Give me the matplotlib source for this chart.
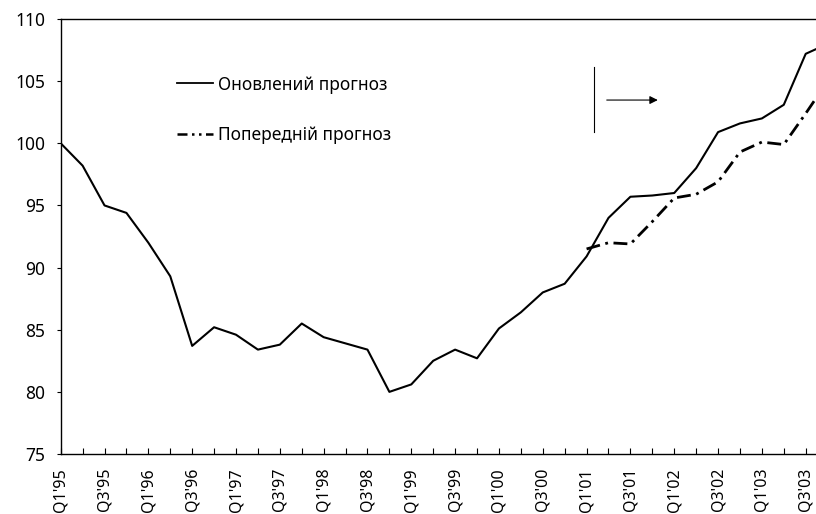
import numpy as np
import matplotlib
matplotlib.use("Agg")
import matplotlib.pyplot as plt

plt.rcParams["font.family"] = ["Noto Sans", "DejaVu Sans"]

# quarters Q1'95 .. Q4'03
years = ["95", "96", "97", "98", "99", "00", "01", "02", "03"]
quarters = [f"Q{q}'{y}" for y in years for q in range(1, 5)]

# updated forecast (solid)
updated = [100.0, 98.2, 95.0, 94.4, 92.0, 89.3, 83.7, 85.2, 84.6, 83.4,
           83.8, 85.5, 84.4, 83.9, 83.4, 80.0, 80.6, 82.5, 83.4, 82.7,
           85.1, 86.4, 88.0, 88.7, 90.9, 94.0, 95.7, 95.8, 96.0, 98.0,
           100.9, 101.6, 102.0, 103.1, 107.2, 108.0]

# previous forecast (dash-dot), starts at Q1'01
prev_start = 24
previous = [91.5, 92.0, 91.9, 93.7, 95.6, 95.9, 96.9, 99.3, 100.1, 99.9,
            102.4, 105.0]

labels = ["Оновлений прогноз", "Попередній прогноз"]

fig = plt.figure(figsize=(8.16, 5.14), dpi=100)
ax = fig.add_axes([0.0744, 0.1167, 0.9256, 0.8463])

x = np.arange(len(updated))
xp = np.arange(prev_start, prev_start + len(previous))

ax.plot(x, updated, color="black", lw=1.5, label=labels[0])
ln, = ax.plot(xp, previous, color="black", lw=2.0, label=labels[1])
ln.set_dashes([5, 2.0, 1, 2.0])

ax.set_xticks(x[:35])
ax.set_xticklabels([q if q[1] in "13" else "" for q in quarters[:35]],
                   rotation=90)
ax.set_xlim(0, 34.47)
ax.set_ylim(75, 110)
ax.set_yticks(np.arange(75, 111, 5))

ax.tick_params(axis="x", direction="in", length=4.5, width=0.8, pad=10,
               labelsize=11.5)
ax.tick_params(axis="y", direction="out", length=3, width=0.8, pad=8,
               labelsize=12.5)

ax.spines["right"].set_visible(False)
for s in ["left", "bottom", "top"]:
    ax.spines[s].set_linewidth(1.0)

# forecast marker: vertical bar and arrow
ax.plot([24.34, 24.34], [100.93, 106.16], color="black", lw=0.8)
ax.annotate("", xy=(27.25, 103.48), xytext=(24.92, 103.48),
            arrowprops=dict(arrowstyle="-|>", color="black", lw=0.8,
                            mutation_scale=12, shrinkA=0, shrinkB=0))

leg = ax.legend(loc="upper left", bbox_to_anchor=(0.1536, 0.87),
                frameon=False, fontsize=12.5, handlelength=2.1,
                handletextpad=0.25, labelspacing=1.85, borderpad=0,
                borderaxespad=0)
leg.legend_handles[0].set_linewidth(1.3)
leg.legend_handles[1].set_linewidth(1.8)
leg.legend_handles[1].set_dashes([4, 1.8, 1, 1.8, 1, 1.8])

plt.savefig("out.png", dpi=100)
